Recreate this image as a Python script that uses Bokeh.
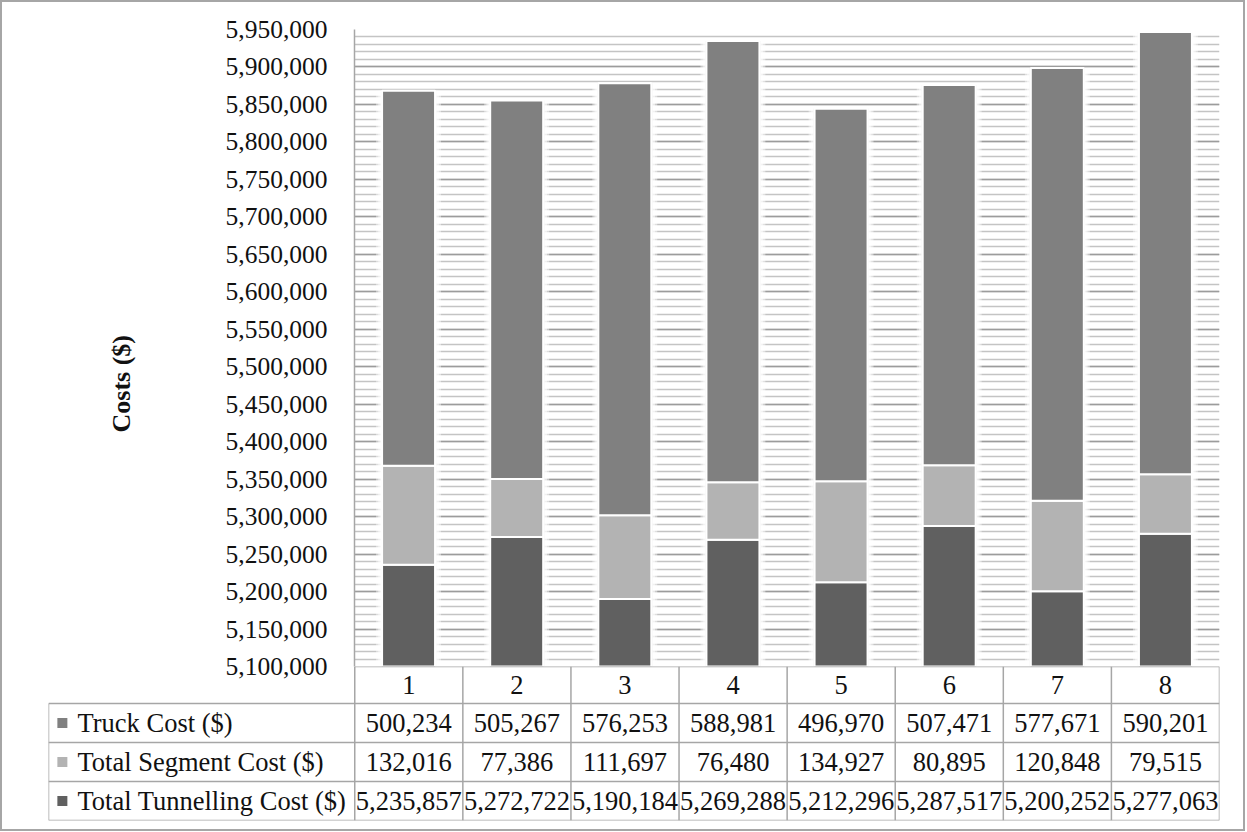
from bokeh.plotting import figure
from bokeh.models import Range1d, SingleIntervalTicker, NumeralTickFormatter, ColumnDataSource
from bokeh.core.properties import value
from bokeh.embed import file_html
from bokeh.resources import INLINE

# ---------------- data ----------------
scenarios = ["1", "2", "3", "4", "5", "6", "7", "8"]
truck_cost = [500234, 505267, 576253, 588981, 496970, 507471, 577671, 590201]
segment_cost = [132016, 77386, 111697, 76480, 134927, 80895, 120848, 79515]
tunnelling_cost = [5235857, 5272722, 5190184, 5269288, 5212296, 5287517, 5200252, 5277063]
series_names = ["Truck Cost ($)", "Total Segment Cost ($)", "Total Tunnelling Cost ($)"]
series_colors = ["#808080", "#b3b3b3", "#606060"]
y_start, y_end, y_step = 5100000, 5950000, 50000

FONT = "Liberation Serif"
GRID_MAJOR = "#9c9c9c"
GRID_MINOR = "#c4c4c4"
LINE = "#a6a6a6"
EDGE = "#a6a6a6"
n = len(scenarios)
xs = [i + 0.5 for i in range(n)]
bar_w = 0.49

# ---------------- chart ----------------
pA = figure(width=1245, height=680, output_backend="svg", toolbar_location=None,
            x_range=Range1d(0, n), y_range=Range1d(y_start, y_end),
            x_axis_type=None, min_border_left=354, min_border_right=26,
            min_border_top=29, min_border_bottom=14,
            styles={"box-shadow": f"inset 2px 0 0 {EDGE}, inset -2px 0 0 {EDGE}, inset 0 2px 0 {EDGE}"})
pA.outline_line_color = None
pA.background_fill_alpha = 0
pA.border_fill_alpha = 0
pA.xgrid.grid_line_color = None
pA.ygrid.grid_line_color = GRID_MAJOR
pA.ygrid.grid_line_width = 1.5
pA.ygrid.minor_grid_line_color = GRID_MINOR
pA.ygrid.minor_grid_line_width = 1.5
ax = pA.yaxis[0]
ax.ticker = SingleIntervalTicker(interval=y_step, num_minor_ticks=5)
ax.formatter = NumeralTickFormatter(format="0,0")
ax.major_tick_line_color = None
ax.minor_tick_line_color = None
ax.major_tick_out = 0
ax.axis_line_color = LINE
ax.axis_line_width = 1.5
ax.major_label_text_font = FONT
ax.major_label_text_font_size = "25.5px"
ax.major_label_text_color = "#111111"
ax.major_label_standoff = 23
ax.axis_label = "Costs ($)" + "\u00a0" * 11
ax.axis_label_text_font = FONT
ax.axis_label_text_font_size = "26px"
ax.axis_label_text_font_style = "bold"
ax.axis_label_text_color = "#111111"
ax.axis_label_standoff = 87

totals = [t + s + k for t, s, k in zip(tunnelling_cost, segment_cost, truck_cost)]
glow = ColumnDataSource(dict(x=xs, top=totals))
for extra, alpha in [(0.11, 0.45), (0.07, 0.55), (0.035, 0.6)]:
    pA.vbar(x="x", top="top", bottom=y_start, width=bar_w + extra, source=glow,
            fill_color="white", fill_alpha=alpha, line_color=None)
pA.vbar(x="x", top="top", bottom=y_start, width=bar_w + 0.02, source=glow,
        fill_color="#e4e4e4", fill_alpha=0.6, line_color=None)

src = ColumnDataSource(dict(x=xs, tun=tunnelling_cost, seg=segment_cost, trk=truck_cost))
pA.vbar_stack(["tun", "seg", "trk"], x="x", width=bar_w, source=src,
              color=[series_colors[2], series_colors[1], series_colors[0]],
              line_color="white", line_width=2)

# ---------------- data table ----------------
left = -2.8333
row_top = 3.95
pB = figure(width=1245, height=165, output_backend="svg", toolbar_location=None,
            x_range=Range1d(left, n), y_range=Range1d(0, row_top),
            x_axis_type=None, y_axis_type=None,
            min_border_left=48, min_border_right=26, min_border_top=0, min_border_bottom=11,
            styles={"margin-top": "-14px",
                    "box-shadow": f"inset 2px 0 0 {EDGE}, inset -2px 0 0 {EDGE}, inset 0 -2px 0 {EDGE}"})
pB.outline_line_color = None
pB.grid.visible = False
pB.background_fill_alpha = 0
pB.border_fill_alpha = 0

hx0 = [0] + [left] * 4
hx1 = [n] * 5
hy = [row_top, 3, 2, 1, 0]
pB.segment(x0=hx0, y0=hy, x1=hx1, y1=hy, line_color=LINE, line_width=1.5)
vx = [left] + list(range(n + 1))
vy0 = [0] * len(vx)
vy1 = [3] + [row_top] * (n + 1)
pB.segment(x0=vx, y0=vy0, x1=vx, y1=vy1, line_color=LINE, line_width=1.5)

TABLE_FS = "26.5px"
pB.text(x=xs, y=[(3 + row_top) / 2] * n, text=scenarios, text_align="center",
        text_baseline="middle", text_font=value(FONT), text_font_size=TABLE_FS,
        text_color="#111111")

rows = [truck_cost, segment_cost, tunnelling_cost]
for r, (vals, name, col) in enumerate(zip(rows, series_names, series_colors)):
    yc = 2.5 - r
    pB.scatter(x=[-2.705], y=[yc], marker="square", size=10, fill_color=col, line_color=None)
    pB.text(x=[-2.565], y=[yc], text=[name], text_align="left", text_baseline="middle",
            text_font=value(FONT), text_font_size=TABLE_FS, text_color="#111111")
    pB.text(x=xs, y=[yc] * n, text=[f"{v:,}" for v in vals], text_align="center",
            text_baseline="middle", text_font=value(FONT), text_font_size=TABLE_FS,
            text_color="#111111")

open("out.html", "w").write(file_html([pA, pB], INLINE))
